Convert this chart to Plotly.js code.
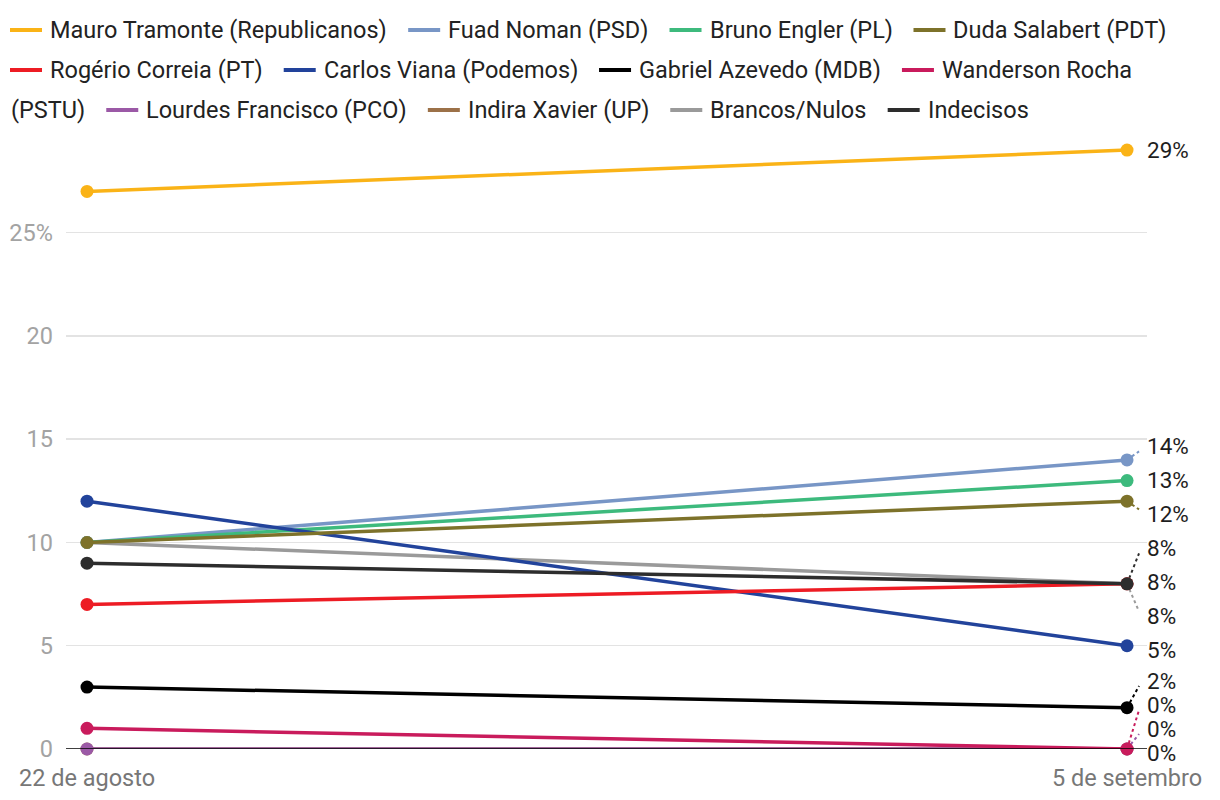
<!DOCTYPE html>
<html>
<head>
<meta charset="utf-8">
<script src="https://cdn.plot.ly/plotly-3.0.1.min.js"></script>
<style>
  body { margin: 0; background: #fff; }
  #chart { width: 1220px; height: 800px; }
</style>
</head>
<body>
<div id="chart"></div>
<script>
// survey dates
const dates = ['22 de agosto', '5 de setembro'];

// series (percent)
const mauro = [27, 29];
const fuad = [10, 14];
const bruno = [10, 13];
const duda = [10, 12];
const rogerio = [7, 8];
const carlos = [12, 5];
const gabriel = [3, 2];
const wanderson = [1, 0];
const lourdes = [0, 0];
const indira = [0, 0];
const brancos = [10, 8];
const indecisos = [9, 8];

const yTicks = [0, 5, 10, 15, 20, 25];
const yTickText = ['0', '5', '10', '15', '20', '25%'];

// legend order
const series = [
  { name: 'Mauro Tramonte (Republicanos)', y: mauro, color: '#fab317' },
  { name: 'Fuad Noman (PSD)', y: fuad, color: '#7896c6' },
  { name: 'Bruno Engler (PL)', y: bruno, color: '#3dba7d' },
  { name: 'Duda Salabert (PDT)', y: duda, color: '#7d722a' },
  { name: 'Rogério Correia (PT)', y: rogerio, color: '#ed1c24' },
  { name: 'Carlos Viana (Podemos)', y: carlos, color: '#22439b' },
  { name: 'Gabriel Azevedo (MDB)', y: gabriel, color: '#000000' },
  { name: 'Wanderson Rocha (PSTU)', y: wanderson, color: '#c91b5c' },
  { name: 'Lourdes Francisco (PCO)', y: lourdes, color: '#9b59a6' },
  { name: 'Indira Xavier (UP)', y: indira, color: '#9c7148' },
  { name: 'Brancos/Nulos', y: brancos, color: '#9a9a9a' },
  { name: 'Indecisos', y: indecisos, color: '#2d2d2d' }
];

// which line sits on top of which (index into series)
const drawOrder = [0, 1, 2, 10, 5, 4, 9, 8, 7, 6, 3, 11];
// order of tied end labels, smaller = higher
const tieRank = [0, 0, 0, 0, 1, 0, 0, 0, 1, 2, 2, 0];

const FONT = 'Roboto, sans-serif';
const M = { l: 66, r: 73, t: 140, b: 51 };
const W = 1220, H = 800;
const plotW = W - M.l - M.r, plotH = H - M.t - M.b;
const yRange = [0, 29.49];
const xRange = [-0.0202, 1.0192];
const toPx = v => M.t + plotH * (1 - (v - yRange[0]) / (yRange[1] - yRange[0]));

const traces = drawOrder.map(i => ({
  type: 'scatter', mode: 'lines+markers',
  x: dates, y: series[i].y, name: series[i].name,
  line: { color: series[i].color, width: 3.5 },
  marker: { color: series[i].color, size: 13 },
  cliponaxis: false,
  hoverinfo: 'skip', showlegend: false
}));

// end labels, spread apart so they don't overlap
function placeLabels(items, gap, maxY, tightGap) {
  let clusters = items.map(it => ({ members: [it], center: it.ideal }));
  let merged = true;
  while (merged) {
    merged = false;
    for (let k = 0; k < clusters.length - 1; k++) {
      const a = clusters[k], b = clusters[k + 1];
      const aBottom = a.center + (a.members.length - 1) / 2 * gap;
      const bTop = b.center - (b.members.length - 1) / 2 * gap;
      if (bTop - aBottom < gap) {
        const members = a.members.concat(b.members);
        const center = members.reduce((s, m) => s + m.ideal, 0) / members.length;
        clusters.splice(k, 2, { members, center });
        merged = true;
        break;
      }
    }
  }
  clusters.forEach(c => c.members.forEach((m, j) => {
    m.pos = c.center + (j - (c.members.length - 1) / 2) * gap;
  }));
  const last = clusters[clusters.length - 1];
  const n = last.members.length;
  if (last.members[n - 1].pos > maxY) {
    last.members.forEach((m, j) => { m.pos = maxY - (n - 1 - j) * tightGap; });
  }
}

const labelItems = series.map((s, i) => ({ i, value: s.y[1], ideal: toPx(s.y[1]) }));
labelItems.sort((a, b) => (a.ideal - b.ideal) || (tieRank[a.i] - tieRank[b.i]));
placeLabels(labelItems, 34, toPx(0) + 4, 24);

const annotations = [];
const shapes = [];

labelItems.forEach(it => {
  const dy = it.pos - it.ideal;
  annotations.push({
    x: dates[1], y: it.value, xref: 'x', yref: 'y',
    text: it.value + '%', showarrow: false,
    xanchor: 'left', yanchor: 'middle', xshift: 18, yshift: -dy,
    font: { family: FONT, size: 22.5, color: '#1e1e1e' }
  });
  if (Math.abs(dy) > 6) {
    const end = dy - Math.sign(dy) * 5;
    shapes.push({
      type: 'line', xref: 'x', yref: 'y', layer: 'below',
      xsizemode: 'pixel', ysizemode: 'pixel',
      xanchor: 1, yanchor: it.value,
      x0: 0, y0: 0, x1: 12, y1: -end,
      line: { color: series[it.i].color, width: 2, dash: '3px,3px' }
    });
  }
});

// zero line on top of the lines
shapes.push({
  type: 'line', xref: 'paper', yref: 'y', layer: 'above',
  x0: 0, x1: 1, y0: 0, y1: 0,
  line: { color: '#000', width: 1.5 }
});

// flowing legend like an html one
const LEG_SIZE = 23.5;
const ctx = document.createElement('canvas').getContext('2d');
ctx.font = LEG_SIZE + 'px Roboto';
const measure = t => ctx.measureText(t).width;
const legLeft = 10, legRight = 1195, rowY = [30, 70, 110];
let row = 0, cx = legLeft;
const spaceW = measure(' ');

function legendText(txt, px, py) {
  annotations.push({
    xref: 'paper', yref: 'paper', x: 0, y: 1,
    xshift: px - M.l, yshift: M.t - py,
    xanchor: 'left', yanchor: 'middle', showarrow: false,
    text: txt, borderpad: 0,
    font: { family: FONT, size: LEG_SIZE, color: '#222' }
  });
}

series.forEach((s, i) => {
  const words = s.name.split(' ');
  const firstW = measure(words[0]);
  if (cx + 32 + 7 + firstW > legRight) { row++; cx = legLeft; }
  const py = rowY[row];
  shapes.push({
    type: 'line', xref: 'paper', yref: 'paper',
    xsizemode: 'pixel', ysizemode: 'pixel', xanchor: 0, yanchor: 1,
    x0: cx - M.l, x1: cx + 32 - M.l, y0: M.t - py, y1: M.t - py,
    line: { color: s.color, width: 4 }
  });
  cx += 39;
  let chunk = '', chunkX = cx;
  words.forEach(w => {
    const addW = (chunk ? spaceW : 0) + measure(w);
    if (chunk && chunkX + measure(chunk) + addW > legRight) {
      legendText(chunk, chunkX, rowY[row]);
      row++;
      chunkX = legLeft;
      chunk = w;
    } else {
      chunk = chunk ? chunk + ' ' + w : w;
    }
  });
  legendText(chunk, chunkX, rowY[row]);
  cx = chunkX + measure(chunk) + 22;
});

const layout = {
  width: W, height: H,
  margin: M,
  paper_bgcolor: '#fff', plot_bgcolor: '#fff',
  showlegend: false,
  font: { family: FONT },
  xaxis: {
    type: 'category', range: xRange,
    showgrid: false, zeroline: false, showline: false,
    ticks: '', ticklabelstandoff: 12,
    tickfont: { family: FONT, size: 23.5, color: '#777' }
  },
  yaxis: {
    range: yRange, tickvals: yTicks, ticktext: yTickText,
    showgrid: true, gridcolor: '#e3e3e3', gridwidth: 1.5,
    zeroline: false, showline: false,
    ticks: '', ticklabelstandoff: 12,
    tickfont: { family: FONT, size: 23.5, color: '#a3a3a3' }
  },
  shapes: shapes,
  annotations: annotations
};

Plotly.newPlot('chart', traces, layout, { displayModeBar: false, staticPlot: true });
</script>
</body>
</html>
